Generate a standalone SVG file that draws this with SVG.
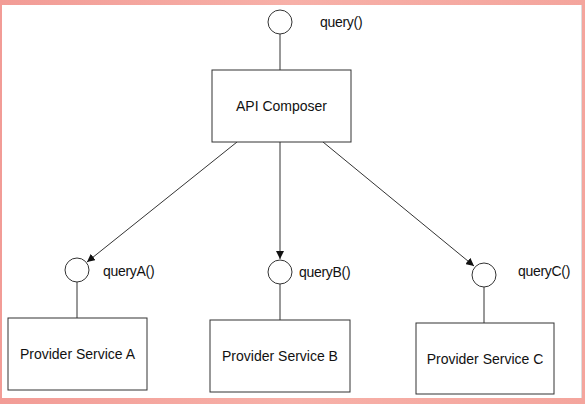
<svg xmlns="http://www.w3.org/2000/svg" width="585" height="404" viewBox="0 0 585 404">
<style>
.box{fill:#fff;stroke:#333;stroke-width:1}
.port{fill:#fff;stroke:#333;stroke-width:1}
.t{font-family:"Liberation Sans",Arial,sans-serif;font-size:14px;fill:#111}
.lbl{font-family:"Liberation Sans",Arial,sans-serif;font-size:14px;fill:#111;letter-spacing:-0.3px}
.ln{stroke:#333;stroke-width:1;fill:none}
</style>
<defs>
<marker id="arr" viewBox="0 0 10 10" refX="10" refY="5" markerWidth="8" markerHeight="8" orient="auto" markerUnits="userSpaceOnUse">
<path d="M0,0 L10,5 L0,10 z" fill="#111"/>
</marker>
<linearGradient id="frame" x1="0" y1="0" x2="1" y2="0">
<stop offset="0" stop-color="#f29c96"/>
<stop offset="0.5" stop-color="#f7b0a8"/>
<stop offset="1" stop-color="#f4a59d"/>
</linearGradient>
</defs>
<rect x="0" y="0" width="585" height="404" fill="url(#frame)"/>
<rect x="2" y="5" width="579" height="393" fill="#fff"/>
<line x1="581.5" y1="5" x2="581.5" y2="398" stroke="#ddd"/>
<g id="connectors">
<line class="ln" x1="280" y1="34" x2="280" y2="70"/>
<line class="ln" x1="237" y1="142" x2="87" y2="262" marker-end="url(#arr)"/>
<line class="ln" x1="280" y1="142" x2="280" y2="259" marker-end="url(#arr)"/>
<line class="ln" x1="323" y1="142" x2="474" y2="266" marker-end="url(#arr)"/>
<line class="ln" x1="77" y1="282" x2="77" y2="318"/>
<line class="ln" x1="280" y1="284" x2="280" y2="320"/>
<line class="ln" x1="484" y1="287" x2="484" y2="323"/>
</g>
<g id="port-query">
<circle class="port" cx="280" cy="22" r="12"/>
<text class="lbl" x="320" y="27">query()</text>
</g>
<g id="api-composer">
<rect class="box" x="212" y="70" width="139" height="72"/>
<text class="t" x="281.5" y="111" text-anchor="middle">API Composer</text>
</g>
<g id="port-queryA">
<circle class="port" cx="77" cy="270" r="12"/>
<text class="lbl" x="103" y="276">queryA()</text>
</g>
<g id="port-queryB">
<circle class="port" cx="280" cy="272" r="12"/>
<text class="lbl" x="299" y="277">queryB()</text>
</g>
<g id="port-queryC">
<circle class="port" cx="484" cy="275" r="12"/>
<text class="lbl" x="518" y="276">queryC()</text>
</g>
<g id="provider-a">
<rect class="box" x="8" y="318" width="139" height="72"/>
<text class="t" x="77.5" y="359" text-anchor="middle">Provider Service A</text>
</g>
<g id="provider-b">
<rect class="box" x="210" y="320" width="140" height="72"/>
<text class="t" x="280" y="361" text-anchor="middle">Provider Service B</text>
</g>
<g id="provider-c">
<rect class="box" x="416" y="323" width="138" height="71"/>
<text class="t" x="485" y="363.5" text-anchor="middle">Provider Service C</text>
</g>
</svg>
